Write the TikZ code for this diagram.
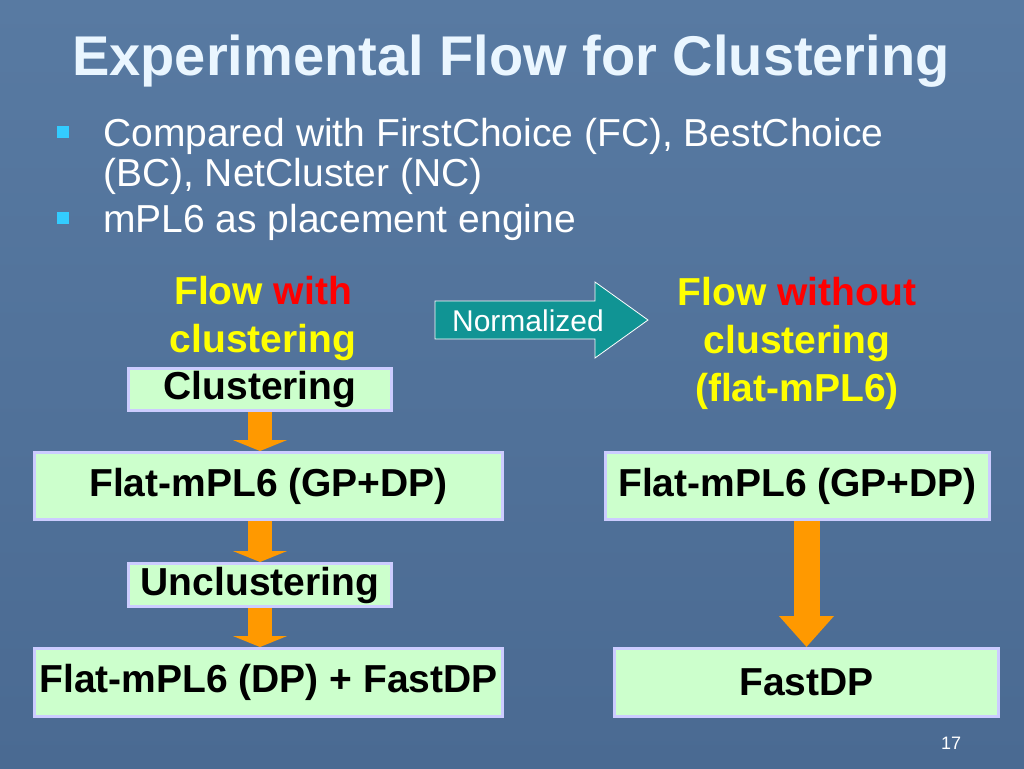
\documentclass[tikz,border=0pt]{standalone}
\usepackage{fontspec}
\setmainfont{Liberation Sans}
\usetikzlibrary{arrows.meta}

\definecolor{bgtop}{RGB}{88,122,162}
\definecolor{bgbottom}{RGB}{74,106,146}
\definecolor{titlewhite}{RGB}{234,246,255}
\definecolor{boxgreen}{RGB}{204,255,204}
\definecolor{boxedge}{RGB}{204,204,255}
\definecolor{flowyellow}{RGB}{255,255,0}
\definecolor{flowred}{RGB}{255,0,0}
\definecolor{arroworange}{RGB}{255,153,0}
\definecolor{normteal}{RGB}{16,148,148}
\definecolor{bulletcyan}{RGB}{51,204,255}

\begin{document}
\begin{tikzpicture}[x=1pt,y=-1pt,
   stepbox/.style={draw=boxedge,line width=3pt,fill=boxgreen,inner sep=0pt,
      font=\fontsize{39}{44}\selectfont\bfseries},
   flowlabel/.style={align=center,anchor=north,inner sep=0pt,text=flowyellow,
      font=\fontsize{39}{48}\selectfont\bfseries},
   flowarrow/.style={arroworange,line width=24pt,-{Triangle[length=11pt,width=54pt]}},
   bigarrow/.style={arroworange,line width=26pt,-{Triangle[length=31pt,width=53pt]}}]

   % Slide background
   \shade[top color=bgtop,bottom color=bgbottom] (0,0) rectangle (1024,768);

   % Title and bullets
   \node[anchor=base,text=titlewhite,font=\fontsize{56}{60}\selectfont\bfseries] (title) at (511,75) {Experimental Flow for Clustering};

   \fill[bulletcyan] (57,126) rectangle (69,138);
   \node[anchor=north west,inner sep=0pt,align=left,text=white,font=\fontsize{39}{40}\selectfont] (bulletone) at (103,118)
      {Compared with FirstChoice (FC), BestChoice\\(BC), NetCluster (NC)};
   \fill[bulletcyan] (57,212) rectangle (69,224);
   \node[anchor=base west,inner sep=0pt,text=white,font=\fontsize{39}{40}\selectfont] (bullettwo) at (103,232)
      {mPL6 as placement engine};

   % Left flow
   \node[flowlabel] (withlabel) at (263,276) {Flow {\color{flowred}with}\\clustering};
   \node[stepbox,minimum width=263,minimum height=42] (clu) at (260,389.5) {Clustering};
   \node[stepbox,minimum width=468,minimum height=67] (flatone) at (268.5,486) {Flat-mPL6 (GP+DP)};
   \node[stepbox,minimum width=263,minimum height=43] (unclu) at (260,585) {Unclustering};
   \node[stepbox,minimum width=468,minimum height=68] (flatdp) at (268.5,682.5) {Flat-mPL6 (DP) + FastDP};

   \draw[flowarrow] (clu.south) -- (clu.south |- flatone.north);
   \draw[flowarrow] (clu.south |- flatone.south) -- (unclu.north);
   \draw[flowarrow] (unclu.south) -- (unclu.south |- flatdp.north);

   % Normalized arrow
   \filldraw[fill=normteal,draw=white,line width=0.8pt] (435,301) -- (595,301) -- (595,282) -- (648,320)
      -- (595,358) -- (595,339) -- (435,339) -- cycle;
   \node[text=white,inner sep=0pt,font=\fontsize{30}{32}\selectfont] (norm) at (528,321) {Normalized};

   % Right flow
   \node[flowlabel] (withoutlabel) at (797,277) {Flow {\color{flowred}without}\\clustering\\(flat-mPL6)};
   \node[stepbox,minimum width=384,minimum height=67] (flattwo) at (797.5,486) {Flat-mPL6 (GP+DP)};
   \node[stepbox,minimum width=384,minimum height=68] (fastdp) at (806.5,682.5) {FastDP};

   \draw[bigarrow] (fastdp.north |- flattwo.south) -- (fastdp.north);

   % Page number
   \node[text=white,font=\fontsize{18}{20}\selectfont] (pagenum) at (951,743) {17};
\end{tikzpicture}
\end{document}
